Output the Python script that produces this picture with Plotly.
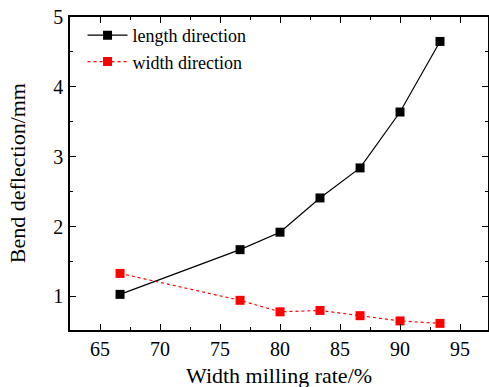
import plotly.graph_objects as go

x_rate = [66.67, 76.67, 80.0, 83.33, 86.67, 90.0, 93.33]
length_dir = [1.03, 1.67, 1.92, 2.41, 2.84, 3.64, 4.65]
width_dir = [1.33, 0.945, 0.78, 0.80, 0.725, 0.65, 0.615]
x_ticks = [65, 70, 75, 80, 85, 90, 95]
y_ticks = [1, 2, 3, 4, 5]

FONT = "Times New Roman, Liberation Serif, DejaVu Serif, serif"

fig = go.Figure()
fig.add_trace(go.Scatter(
    x=x_rate, y=length_dir, name="length direction", mode="lines+markers",
    line=dict(color="black", width=1.2),
    marker=dict(symbol="square", size=9, color="black"),
))
fig.add_trace(go.Scatter(
    x=x_rate, y=width_dir, name="width direction", mode="lines+markers",
    line=dict(color="#ff0000", width=1.2, dash="dot"),
    marker=dict(symbol="square", size=9, color="#ff0000"),
))

axis_common = dict(
    showline=True, linecolor="black", linewidth=1.5, mirror="ticks",
    ticks="inside", ticklen=6, tickwidth=1.2, tickcolor="black",
    showgrid=False, zeroline=False, automargin=False,
    tickfont=dict(family=FONT, size=20, color="black"),
)

fig.update_xaxes(
    range=[62.5, 97.33], tickvals=x_ticks,
    minor=dict(ticks="inside", ticklen=3.5, tickwidth=1, tickcolor="black", dtick=2.5, tick0=62.5, showgrid=False),
    ticklabelstandoff=0,
    **axis_common,
)
fig.update_yaxes(
    range=[0.52, 5], tickvals=y_ticks,
    minor=dict(ticks="inside", ticklen=3.5, tickwidth=1, tickcolor="black", dtick=0.5, tick0=0, showgrid=False),
    ticklabelstandoff=1,
    **axis_common,
)

fig.add_annotation(
    text="Width milling rate/%", xref="paper", yref="paper",
    x=0.5, y=-0.145, xanchor="center", yanchor="middle", showarrow=False,
    font=dict(family=FONT, size=22, color="black"),
)
fig.add_annotation(
    text="Bend deflection/mm", xref="paper", yref="paper",
    x=-0.125, y=0.5, xanchor="center", yanchor="middle", showarrow=False, textangle=-90,
    font=dict(family=FONT, size=22, color="black"),
)

fig.update_layout(
    width=489, height=387,
    margin=dict(l=70, r=1, t=17, b=57),
    paper_bgcolor="white", plot_bgcolor="white",
    font=dict(family=FONT, color="black"),
    showlegend=True,
    legend=dict(
        x=0.03, y=1.0, xanchor="left", yanchor="top",
        bgcolor="rgba(0,0,0,0)", borderwidth=0,
        font=dict(family=FONT, size=18, color="black"),
        tracegroupgap=0, itemwidth=40,
    ),
)

fig.write_html(
    "out.html",
    config={"displayModeBar": False},
    post_script="document.body.style.margin='0';document.body.style.overflow='hidden';",
)
